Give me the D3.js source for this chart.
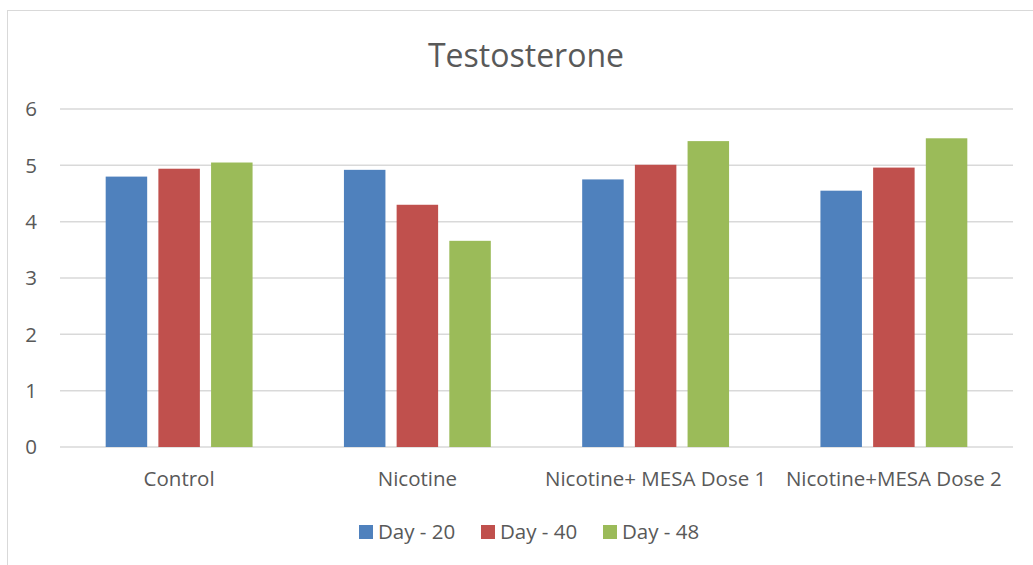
<!DOCTYPE html>
<html>
<head>
<meta charset="utf-8">
<script src="https://cdn.jsdelivr.net/npm/d3@7"></script>
<style>
  body { margin: 0; background: #fff; }
  text { font-family: "Open Sans", "Noto Sans", sans-serif; fill: #595959; }
</style>
</head>
<body>
<div id="chart"></div>
<script>

const CATEGORIES = ["Control", "Nicotine", "Nicotine+ MESA Dose 1", "Nicotine+MESA Dose 2"];
const SERIES = ["Day - 20", "Day - 40", "Day - 48"];
const DAY20 = [4.80, 4.92, 4.75, 4.55];
const DAY40 = [4.94, 4.30, 5.01, 4.96];
const DAY48 = [5.05, 3.66, 5.43, 5.48];
const Y_TICKS = [0, 1, 2, 3, 4, 5, 6];
const COLORS = ["#4F81BD", "#C0504D", "#9BBB59"];

const FRAME_WIDTH = 1033;
const FRAME_HEIGHT = 565;
const MARGINS = {left: 60, right: 20, top: 109, bottom: 118};

const values = [DAY20, DAY40, DAY48];

const svg = d3.select("#chart")
  .append("svg")
    .attr("width", FRAME_WIDTH)
    .attr("height", FRAME_HEIGHT);

// chart frame
svg.append("rect")
  .attr("x", 7.5).attr("y", 10.5)
  .attr("width", 1100).attr("height", 700)
  .attr("fill", "none")
  .attr("stroke", "#d9d9d9");

const X0 = d3.scaleBand()
  .domain(CATEGORIES)
  .range([MARGINS.left, FRAME_WIDTH - MARGINS.right]);

const X1 = d3.scaleBand()
  .domain(SERIES)
  .range([0, X0.bandwidth()])
  .paddingInner(0.2125)
  .paddingOuter(0.867);

const Y = d3.scaleLinear()
  .domain([0, 6])
  .range([FRAME_HEIGHT - MARGINS.bottom, MARGINS.top]);

// gridlines
svg.append("g")
  .selectAll("line")
  .data(Y_TICKS)
  .enter()
  .append("line")
    .attr("x1", MARGINS.left)
    .attr("x2", FRAME_WIDTH - MARGINS.right)
    .attr("y1", d => Y(d))
    .attr("y2", d => Y(d))
    .attr("stroke", "#d9d9d9")
    .attr("stroke-width", 1.5);

// y labels
svg.append("g")
  .selectAll("text")
  .data(Y_TICKS)
  .enter()
  .append("text")
    .attr("x", 37)
    .attr("y", d => Y(d))
    .attr("dy", "0.35em")
    .attr("text-anchor", "end")
    .attr("font-size", 20.5)
    .text(d => d);

// bars
SERIES.forEach((s, i) => {
  svg.append("g")
    .selectAll("rect")
    .data(values[i])
    .enter()
    .append("rect")
      .attr("x", (d, j) => X0(CATEGORIES[j]) + X1(s))
      .attr("y", d => Y(d))
      .attr("width", X1.bandwidth())
      .attr("height", d => Y(0) - Y(d))
      .attr("fill", COLORS[i]);
});

// x labels
svg.append("g")
  .selectAll("text")
  .data(CATEGORIES)
  .enter()
  .append("text")
    .attr("x", d => X0(d) + X0.bandwidth() / 2)
    .attr("y", 486)
    .attr("text-anchor", "middle")
    .attr("font-size", 20.5)
    .text(d => d);

// title
svg.append("text")
  .attr("x", 526)
  .attr("y", 67)
  .attr("text-anchor", "middle")
  .attr("font-size", 32)
  .text("Testosterone");

// legend
const LEGEND_X = [359, 481, 603];
const legend = svg.append("g")
  .selectAll("g")
  .data(SERIES)
  .enter()
  .append("g")
    .attr("transform", (d, i) => "translate(" + LEGEND_X[i] + ",525)");

legend.append("rect")
  .attr("width", 14).attr("height", 14)
  .attr("fill", (d, i) => COLORS[i]);

legend.append("text")
  .attr("x", 19)
  .attr("y", 7)
  .attr("dy", "0.35em")
  .attr("font-size", 20.5)
  .text(d => d);

</script>
</body>
</html>
